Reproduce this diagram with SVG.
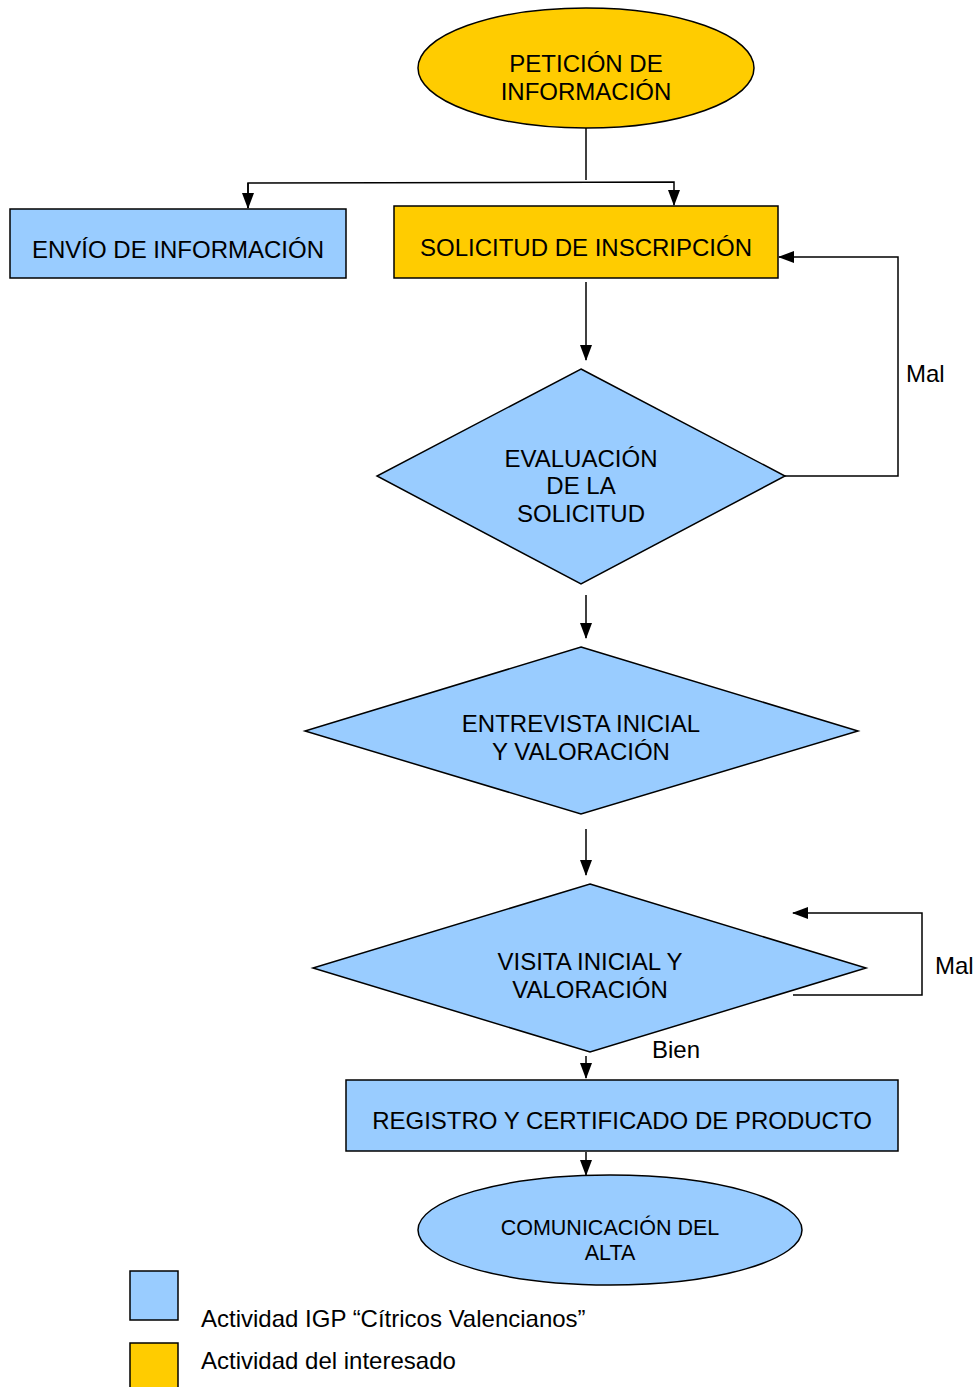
<svg xmlns="http://www.w3.org/2000/svg" width="978" height="1387" viewBox="0 0 978 1387">
<defs>
<marker id="ah" markerWidth="16" markerHeight="12" refX="15" refY="6" orient="auto" markerUnits="userSpaceOnUse">
<path d="M0,0 L16,6 L0,12 Z" fill="#000"/>
</marker>
<style>
.blue{fill:#99CCFF;stroke:#000;stroke-width:1.5}
.yel{fill:#FFCC00;stroke:#000;stroke-width:1.5}
.t{font-family:"Liberation Sans",Arial,sans-serif;font-size:24px;fill:#000;text-anchor:middle}
.l{font-family:"Liberation Sans",Arial,sans-serif;font-size:24px;fill:#000}
.c{fill:none;stroke:#000;stroke-width:1.5}
</style>
</defs>
<rect width="978" height="1387" fill="#fff"/>
<g id="connectors">
<path class="c" d="M586,128 L586,180"/>
<path class="c" d="M248,208 L248,183 L674,182 L674,205" marker-end="url(#ah)"/>
<path class="c" d="M248,183 L248,208" marker-end="url(#ah)"/>
<path class="c" d="M586,282 L586,360" marker-end="url(#ah)"/>
<path class="c" d="M785,476 L898,476 L898,257 L779,257" marker-end="url(#ah)"/>
<path class="c" d="M586,595 L586,638" marker-end="url(#ah)"/>
<path class="c" d="M586,829 L586,875" marker-end="url(#ah)"/>
<path class="c" d="M793,995 L922,995 L922,913 L793,913" marker-end="url(#ah)"/>
<path class="c" d="M586,1056 L586,1078" marker-end="url(#ah)"/>
<path class="c" d="M586,1152 L586,1175" marker-end="url(#ah)"/>
<text class="l" x="906" y="382">Mal</text>
<text class="l" x="935" y="974">Mal</text>
<text class="l" x="652" y="1058">Bien</text>
</g>
<g id="peticion">
<ellipse class="yel" cx="586" cy="68" rx="168" ry="60"/>
<text class="t" x="586" y="72">PETICIÓN DE</text>
<text class="t" x="586" y="100">INFORMACIÓN</text>
</g>
<g id="envio">
<rect class="blue" x="10" y="209" width="336" height="69"/>
<text class="t" x="178" y="258">ENVÍO DE INFORMACIÓN</text>
</g>
<g id="solicitud">
<rect class="yel" x="394" y="206" width="384" height="72"/>
<text class="t" x="586" y="256">SOLICITUD DE INSCRIPCIÓN</text>
</g>
<g id="evaluacion">
<polygon class="blue" points="581,369 785,476 581,584 377,476"/>
<text class="t" x="581" y="467">EVALUACIÓN</text>
<text class="t" x="581" y="494">DE LA</text>
<text class="t" x="581" y="522">SOLICITUD</text>
</g>
<g id="entrevista">
<polygon class="blue" points="581,647 858,731 581,814 305,731"/>
<text class="t" x="581" y="732">ENTREVISTA INICIAL</text>
<text class="t" x="581" y="760">Y VALORACIÓN</text>
</g>
<g id="visita">
<polygon class="blue" points="590,884 866,968 590,1052 313,968"/>
<text class="t" x="590" y="970">VISITA INICIAL Y</text>
<text class="t" x="590" y="998">VALORACIÓN</text>
</g>
<g id="registro">
<rect class="blue" x="346" y="1080" width="552" height="71"/>
<text class="t" x="622" y="1129">REGISTRO Y CERTIFICADO DE PRODUCTO</text>
</g>
<g id="comunicacion">
<ellipse class="blue" cx="610" cy="1230" rx="192" ry="55"/>
<text class="t" x="610" y="1235" style="font-size:21.5px">COMUNICACIÓN DEL</text>
<text class="t" x="610" y="1260" style="font-size:21.5px">ALTA</text>
</g>
<g id="legend">
<rect class="blue" x="130" y="1271" width="48" height="49"/>
<rect class="yel" x="130" y="1343" width="48" height="50"/>
<text class="l" x="201" y="1327">Actividad IGP “Cítricos Valencianos”</text>
<text class="l" x="201" y="1369">Actividad del interesado</text>
</g>
</svg>
